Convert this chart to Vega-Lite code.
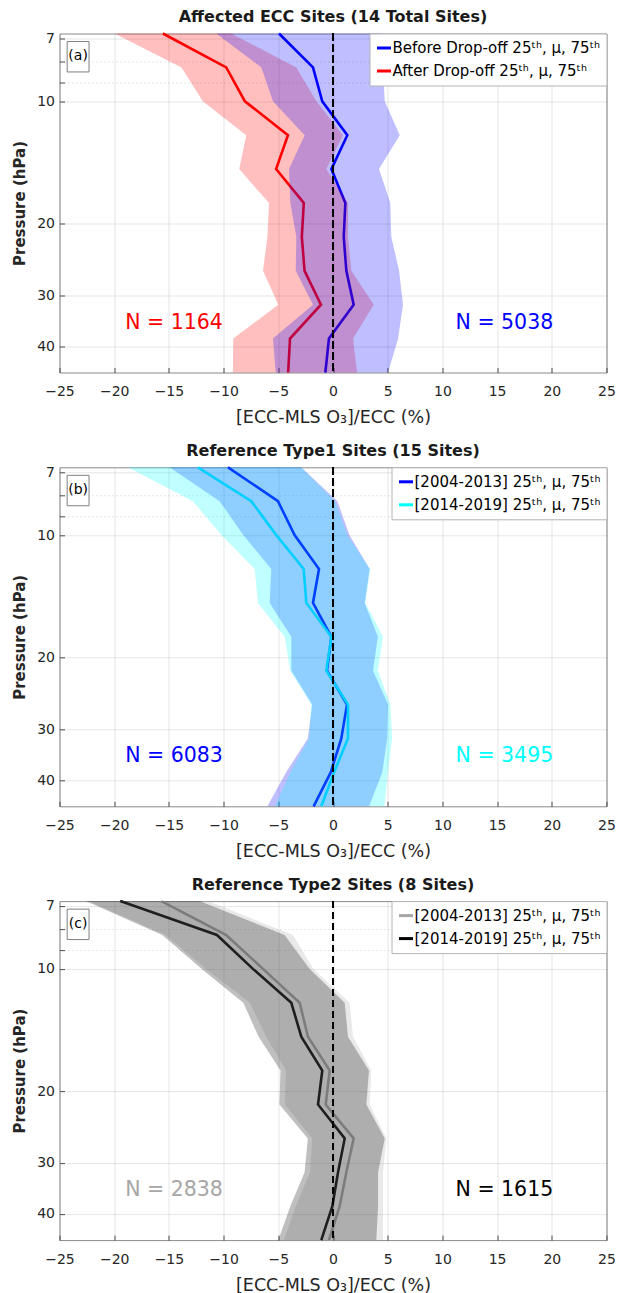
{
  "$schema": "https://vega.github.io/schema/vega-lite/v6.json",
  "autosize": {"type": "pad"},
  "padding": {"left": 11.5, "top": 8.5, "right": 0, "bottom": 0},
  "background": "white",
  "spacing": 14.8,
  "config": {
    "font": "DejaVu Sans",
    "view": {"stroke": "#8a8a8a", "strokeWidth": 1},
    "title": {"fontSize": 16, "fontWeight": "bold", "color": "#1a1a1a", "offset": 3.2},
    "axis": {"labelFontSize": 14, "labelColor": "#262626", "titleColor": "#262626", "gridColor": "#000000", "gridOpacity": 0.1, "domain": false, "ticks": true, "tickSize": -5, "tickColor": "#4d4d4d", "tickWidth": 1, "labelFlush": false},
    "legend": {"orient": "top-right", "offset": 0, "labelFontSize": 15, "labelColor": "#000000", "labelLimit": 400, "symbolType": "stroke", "symbolStrokeWidth": 3, "symbolSize": 196, "strokeColor": "#b3b3b3", "fillColor": "white", "padding": 6, "rowPadding": 6, "labelOffset": 0}
  },
  "resolve": {"scale": {"color": "independent", "x": "independent", "y": "independent"}, "legend": {"color": "independent"}},
  "datasets": {
    "a": [
      {"series": "Before Drop-off 25ᵗʰ, μ, 75ᵗʰ", "p": 6.813, "mean": -4.94, "p25": -10.67, "p75": 4.42},
      {"series": "Before Drop-off 25ᵗʰ, μ, 75ᵗʰ", "p": 8.254, "mean": -1.83, "p25": -6.55, "p75": 4.57},
      {"series": "Before Drop-off 25ᵗʰ, μ, 75ᵗʰ", "p": 10, "mean": -0.98, "p25": -5.49, "p75": 4.73},
      {"series": "Before Drop-off 25ᵗʰ, μ, 75ᵗʰ", "p": 12.115, "mean": 1.31, "p25": -2.59, "p75": 6.1},
      {"series": "Before Drop-off 25ᵗʰ, μ, 75ᵗʰ", "p": 14.678, "mean": -0.15, "p25": -4.02, "p75": 4.21},
      {"series": "Before Drop-off 25ᵗʰ, μ, 75ᵗʰ", "p": 17.783, "mean": 1.13, "p25": -3.9, "p75": 5.24},
      {"series": "Before Drop-off 25ᵗʰ, μ, 75ᵗʰ", "p": 21.544, "mean": 0.98, "p25": -3.35, "p75": 5.33},
      {"series": "Before Drop-off 25ᵗʰ, μ, 75ᵗʰ", "p": 26.102, "mean": 1.22, "p25": -3.41, "p75": 6.04},
      {"series": "Before Drop-off 25ᵗʰ, μ, 75ᵗʰ", "p": 31.623, "mean": 1.89, "p25": -1.83, "p75": 6.4},
      {"series": "Before Drop-off 25ᵗʰ, μ, 75ᵗʰ", "p": 38.312, "mean": -0.37, "p25": -5.49, "p75": 5.95},
      {"series": "Before Drop-off 25ᵗʰ, μ, 75ᵗʰ", "p": 46.416, "mean": -0.7, "p25": -5.24, "p75": 5.03},
      {"series": "After Drop-off 25ᵗʰ, μ, 75ᵗʰ", "p": 6.813, "mean": -15.55, "p25": -19.97, "p75": -9.3},
      {"series": "After Drop-off 25ᵗʰ, μ, 75ᵗʰ", "p": 8.254, "mean": -9.76, "p25": -13.85, "p75": -3.35},
      {"series": "After Drop-off 25ᵗʰ, μ, 75ᵗʰ", "p": 10, "mean": -8.05, "p25": -11.9, "p75": -1.52},
      {"series": "After Drop-off 25ᵗʰ, μ, 75ᵗʰ", "p": 12.115, "mean": -4.12, "p25": -7.93, "p75": 0.91},
      {"series": "After Drop-off 25ᵗʰ, μ, 75ᵗʰ", "p": 14.678, "mean": -5.2, "p25": -8.57, "p75": -0.61},
      {"series": "After Drop-off 25ᵗʰ, μ, 75ᵗʰ", "p": 17.783, "mean": -2.67, "p25": -5.85, "p75": 1.37},
      {"series": "After Drop-off 25ᵗʰ, μ, 75ᵗʰ", "p": 21.544, "mean": -2.85, "p25": -6.0, "p75": 1.37},
      {"series": "After Drop-off 25ᵗʰ, μ, 75ᵗʰ", "p": 26.102, "mean": -2.6, "p25": -6.4, "p75": 1.68},
      {"series": "After Drop-off 25ᵗʰ, μ, 75ᵗʰ", "p": 31.623, "mean": -1.1, "p25": -5.0, "p75": 3.72},
      {"series": "After Drop-off 25ᵗʰ, μ, 75ᵗʰ", "p": 38.312, "mean": -3.93, "p25": -9.12, "p75": 1.83},
      {"series": "After Drop-off 25ᵗʰ, μ, 75ᵗʰ", "p": 46.416, "mean": -4.1, "p25": -9.15, "p75": 2.2}
    ],
    "b": [
      {"series": "[2004-2013] 25ᵗʰ, μ, 75ᵗʰ", "p": 6.813, "mean": -9.6, "p25": -14.94, "p75": -2.9},
      {"series": "[2004-2013] 25ᵗʰ, μ, 75ᵗʰ", "p": 8.254, "mean": -5.03, "p25": -10.37, "p75": 0.4},
      {"series": "[2004-2013] 25ᵗʰ, μ, 75ᵗʰ", "p": 10, "mean": -3.51, "p25": -8.2, "p75": 1.5},
      {"series": "[2004-2013] 25ᵗʰ, μ, 75ᵗʰ", "p": 12.115, "mean": -1.28, "p25": -5.64, "p75": 3.35},
      {"series": "[2004-2013] 25ᵗʰ, μ, 75ᵗʰ", "p": 14.678, "mean": -1.83, "p25": -5.79, "p75": 2.9},
      {"series": "[2004-2013] 25ᵗʰ, μ, 75ᵗʰ", "p": 17.783, "mean": -0.15, "p25": -3.81, "p75": 4.1},
      {"series": "[2004-2013] 25ᵗʰ, μ, 75ᵗʰ", "p": 21.544, "mean": -0.55, "p25": -3.81, "p75": 3.66},
      {"series": "[2004-2013] 25ᵗʰ, μ, 75ᵗʰ", "p": 26.102, "mean": 1.28, "p25": -1.9, "p75": 5.03},
      {"series": "[2004-2013] 25ᵗʰ, μ, 75ᵗʰ", "p": 31.623, "mean": 0.76, "p25": -2.3, "p75": 4.95},
      {"series": "[2004-2013] 25ᵗʰ, μ, 75ᵗʰ", "p": 38.312, "mean": -0.21, "p25": -4.3, "p75": 4.5},
      {"series": "[2004-2013] 25ᵗʰ, μ, 75ᵗʰ", "p": 46.416, "mean": -1.77, "p25": -6.0, "p75": 3.3},
      {"series": "[2014-2019] 25ᵗʰ, μ, 75ᵗʰ", "p": 6.813, "mean": -12.35, "p25": -18.75, "p75": -2.9},
      {"series": "[2014-2019] 25ᵗʰ, μ, 75ᵗʰ", "p": 8.254, "mean": -7.47, "p25": -12.8, "p75": 0.2},
      {"series": "[2014-2019] 25ᵗʰ, μ, 75ᵗʰ", "p": 10, "mean": -5.18, "p25": -10.2, "p75": 1.3},
      {"series": "[2014-2019] 25ᵗʰ, μ, 75ᵗʰ", "p": 12.115, "mean": -2.68, "p25": -7.16, "p75": 3.4},
      {"series": "[2014-2019] 25ᵗʰ, μ, 75ᵗʰ", "p": 14.678, "mean": -2.44, "p25": -6.86, "p75": 2.95},
      {"series": "[2014-2019] 25ᵗʰ, μ, 75ᵗʰ", "p": 17.783, "mean": -0.15, "p25": -4.42, "p75": 4.57},
      {"series": "[2014-2019] 25ᵗʰ, μ, 75ᵗʰ", "p": 21.544, "mean": -0.61, "p25": -3.9, "p75": 4.1},
      {"series": "[2014-2019] 25ᵗʰ, μ, 75ᵗʰ", "p": 26.102, "mean": 1.37, "p25": -1.98, "p75": 5.24},
      {"series": "[2014-2019] 25ᵗʰ, μ, 75ᵗʰ", "p": 31.623, "mean": 1.37, "p25": -2.2, "p75": 5.4},
      {"series": "[2014-2019] 25ᵗʰ, μ, 75ᵗʰ", "p": 38.312, "mean": 0.09, "p25": -3.9, "p75": 5.03},
      {"series": "[2014-2019] 25ᵗʰ, μ, 75ᵗʰ", "p": 46.416, "mean": -1.07, "p25": -5.3, "p75": 4.7}
    ],
    "c": [
      {"series": "[2004-2013] 25ᵗʰ, μ, 75ᵗʰ", "p": 6.813, "mean": -15.7, "p25": -22.4, "p75": -11.4},
      {"series": "[2004-2013] 25ᵗʰ, μ, 75ᵗʰ", "p": 8.254, "mean": -9.76, "p25": -15.3, "p75": -3.66},
      {"series": "[2004-2013] 25ᵗʰ, μ, 75ᵗʰ", "p": 10, "mean": -6.4, "p25": -11.6, "p75": -1.8},
      {"series": "[2004-2013] 25ᵗʰ, μ, 75ᵗʰ", "p": 12.115, "mean": -3.05, "p25": -7.6, "p75": 1.52},
      {"series": "[2004-2013] 25ᵗʰ, μ, 75ᵗʰ", "p": 14.678, "mean": -2.29, "p25": -6.1, "p75": 1.83},
      {"series": "[2004-2013] 25ᵗʰ, μ, 75ᵗʰ", "p": 17.783, "mean": -0.3, "p25": -4.3, "p75": 3.5},
      {"series": "[2004-2013] 25ᵗʰ, μ, 75ᵗʰ", "p": 21.544, "mean": -0.67, "p25": -4.4, "p75": 3.35},
      {"series": "[2004-2013] 25ᵗʰ, μ, 75ᵗʰ", "p": 26.102, "mean": 1.89, "p25": -1.9, "p75": 4.88},
      {"series": "[2004-2013] 25ᵗʰ, μ, 75ᵗʰ", "p": 31.623, "mean": 1.22, "p25": -2.1, "p75": 4.57},
      {"series": "[2004-2013] 25ᵗʰ, μ, 75ᵗʰ", "p": 38.312, "mean": 0.61, "p25": -3.4, "p75": 4.57},
      {"series": "[2004-2013] 25ᵗʰ, μ, 75ᵗʰ", "p": 46.416, "mean": -0.37, "p25": -4.5, "p75": 4.57},
      {"series": "[2014-2019] 25ᵗʰ, μ, 75ᵗʰ", "p": 6.813, "mean": -19.45, "p25": -22.6, "p75": -12.2},
      {"series": "[2014-2019] 25ᵗʰ, μ, 75ᵗʰ", "p": 8.254, "mean": -10.61, "p25": -15.6, "p75": -4.42},
      {"series": "[2014-2019] 25ᵗʰ, μ, 75ᵗʰ", "p": 10, "mean": -7.32, "p25": -12.0, "p75": -2.13},
      {"series": "[2014-2019] 25ᵗʰ, μ, 75ᵗʰ", "p": 12.115, "mean": -3.81, "p25": -8.2, "p75": 1.07},
      {"series": "[2014-2019] 25ᵗʰ, μ, 75ᵗʰ", "p": 14.678, "mean": -2.9, "p25": -6.8, "p75": 1.37},
      {"series": "[2014-2019] 25ᵗʰ, μ, 75ᵗʰ", "p": 17.783, "mean": -0.98, "p25": -4.8, "p75": 3.29},
      {"series": "[2014-2019] 25ᵗʰ, μ, 75ᵗʰ", "p": 21.544, "mean": -1.37, "p25": -4.9, "p75": 3.05},
      {"series": "[2014-2019] 25ᵗʰ, μ, 75ᵗʰ", "p": 26.102, "mean": 1.07, "p25": -2.3, "p75": 4.73},
      {"series": "[2014-2019] 25ᵗʰ, μ, 75ᵗʰ", "p": 31.623, "mean": 0.46, "p25": -2.6, "p75": 4.12},
      {"series": "[2014-2019] 25ᵗʰ, μ, 75ᵗʰ", "p": 38.312, "mean": -0.06, "p25": -3.9, "p75": 4.12},
      {"series": "[2014-2019] 25ᵗʰ, μ, 75ᵗʰ", "p": 46.416, "mean": -1.07, "p25": -5.0, "p75": 3.96}
    ]
  },
  "vconcat": [
    {
      "title": "Affected ECC Sites (14 Total Sites)",
      "width": 547, "height": 339,
      "data": {"name": "a"},
      "layer": [
        {"mark": {"type": "line", "strokeWidth": 2.6},
         "encoding": {
           "x": {"field": "mean", "type": "quantitative", "title": "[ECC-MLS O₃]/ECC (%)", "scale": {"domain": [-25, 25], "nice": false}, "axis": {"values": [-25, -20, -15, -10, -5, 0, 5, 10, 15, 20, 25], "labelPadding": 17.4, "titlePadding": 9.8, "titleFontSize": 17.5, "titleFontWeight": "normal"}},
           "y": {"field": "p", "type": "quantitative", "title": "Pressure (hPa)", "scale": {"type": "log", "domain": [6.813, 46.416], "reverse": true, "nice": false}, "axis": {"values": [7, 8, 9, 10, 20, 30, 40], "format": "d", "labelExpr": "datum.value == 8 || datum.value == 9 ? '' : datum.label", "gridDash": {"condition": {"test": "datum.value == 8 || datum.value == 9", "value": [2, 2]}, "value": []}, "labelPadding": 10, "titlePadding": 9, "titleFontSize": 15, "titleFontWeight": "bold"}},
           "color": {"field": "series", "type": "nominal", "scale": {"domain": ["Before Drop-off 25ᵗʰ, μ, 75ᵗʰ", "After Drop-off 25ᵗʰ, μ, 75ᵗʰ"], "range": ["#0000ff", "#ff0000"]}, "legend": {"title": null}},
           "order": {"field": "p", "type": "quantitative"}
         }},
        {"transform": [{"filter": {"field": "series", "equal": "After Drop-off 25ᵗʰ, μ, 75ᵗʰ"}}],
         "mark": {"type": "area", "orient": "horizontal", "fill": "#ff0000", "fillOpacity": 0.25},
         "encoding": {"x": {"field": "p25", "type": "quantitative", "title": "[ECC-MLS O₃]/ECC (%)"}, "x2": {"field": "p75"}, "y": {"field": "p", "type": "quantitative", "title": "Pressure (hPa)"}}},
        {"transform": [{"filter": {"field": "series", "equal": "Before Drop-off 25ᵗʰ, μ, 75ᵗʰ"}}],
         "mark": {"type": "area", "orient": "horizontal", "fill": "#0000ff", "fillOpacity": 0.25},
         "encoding": {"x": {"field": "p25", "type": "quantitative", "title": "[ECC-MLS O₃]/ECC (%)"}, "x2": {"field": "p75"}, "y": {"field": "p", "type": "quantitative", "title": "Pressure (hPa)"}}},
        {"mark": {"type": "rule", "color": "#000000", "strokeDash": [7, 4], "strokeWidth": 1.8},
         "encoding": {"x": {"datum": 0}}},
        {"data": {"values": [{"label": "N = 1164"}]},
         "mark": {"type": "text", "align": "left", "baseline": "middle", "fontSize": 20.5, "color": "#ff0000"},
         "encoding": {"x": {"datum": -19}, "y": {"datum": 35.0}, "text": {"field": "label"}}},
        {"data": {"values": [{"label": "N = 5038"}]},
         "mark": {"type": "text", "align": "left", "baseline": "middle", "fontSize": 20.5, "color": "#0000ff"},
         "encoding": {"x": {"datum": 11.2}, "y": {"datum": 35.0}, "text": {"field": "label"}}},
        {"data": {"values": [{"label": "(a)"}]},
         "mark": {"type": "rect", "fill": "white", "stroke": "#7f7f7f", "strokeWidth": 1},
         "encoding": {"x": {"datum": -24.3}, "x2": {"datum": -22.3}, "y": {"datum": 7.13}, "y2": {"datum": 8.47}}},
        {"data": {"values": [{"label": "(a)"}]},
         "mark": {"type": "text", "align": "center", "baseline": "middle", "fontSize": 14, "color": "#000000"},
         "encoding": {"x": {"datum": -23.3}, "y": {"datum": 7.76}, "text": {"field": "label"}}}
      ]
    },
    {
      "title": "Reference Type1 Sites (15 Sites)",
      "width": 547, "height": 339,
      "data": {"name": "b"},
      "layer": [
        {"mark": {"type": "line", "strokeWidth": 2.6},
         "encoding": {
           "x": {"field": "mean", "type": "quantitative", "title": "[ECC-MLS O₃]/ECC (%)", "scale": {"domain": [-25, 25], "nice": false}, "axis": {"values": [-25, -20, -15, -10, -5, 0, 5, 10, 15, 20, 25], "labelPadding": 17.4, "titlePadding": 9.8, "titleFontSize": 17.5, "titleFontWeight": "normal"}},
           "y": {"field": "p", "type": "quantitative", "title": "Pressure (hPa)", "scale": {"type": "log", "domain": [6.813, 46.416], "reverse": true, "nice": false}, "axis": {"values": [7, 8, 9, 10, 20, 30, 40], "format": "d", "labelExpr": "datum.value == 8 || datum.value == 9 ? '' : datum.label", "gridDash": {"condition": {"test": "datum.value == 8 || datum.value == 9", "value": [2, 2]}, "value": []}, "labelPadding": 10, "titlePadding": 9, "titleFontSize": 15, "titleFontWeight": "bold"}},
           "color": {"field": "series", "type": "nominal", "scale": {"domain": ["[2004-2013] 25ᵗʰ, μ, 75ᵗʰ", "[2014-2019] 25ᵗʰ, μ, 75ᵗʰ"], "range": ["#0000ff", "#00ffff"]}, "legend": {"title": null}},
           "order": {"field": "p", "type": "quantitative"}
         }},
        {"transform": [{"filter": {"field": "series", "equal": "[2004-2013] 25ᵗʰ, μ, 75ᵗʰ"}}],
         "mark": {"type": "area", "orient": "horizontal", "fill": "#0000ff", "fillOpacity": 0.25},
         "encoding": {"x": {"field": "p25", "type": "quantitative", "title": "[ECC-MLS O₃]/ECC (%)"}, "x2": {"field": "p75"}, "y": {"field": "p", "type": "quantitative", "title": "Pressure (hPa)"}}},
        {"transform": [{"filter": {"field": "series", "equal": "[2014-2019] 25ᵗʰ, μ, 75ᵗʰ"}}],
         "mark": {"type": "area", "orient": "horizontal", "fill": "#00ffff", "fillOpacity": 0.25},
         "encoding": {"x": {"field": "p25", "type": "quantitative", "title": "[ECC-MLS O₃]/ECC (%)"}, "x2": {"field": "p75"}, "y": {"field": "p", "type": "quantitative", "title": "Pressure (hPa)"}}},
        {"mark": {"type": "rule", "color": "#000000", "strokeDash": [7, 4], "strokeWidth": 1.8},
         "encoding": {"x": {"datum": 0}}},
        {"data": {"values": [{"label": "N = 6083"}]},
         "mark": {"type": "text", "align": "left", "baseline": "middle", "fontSize": 20.5, "color": "#0000ff"},
         "encoding": {"x": {"datum": -19}, "y": {"datum": 35.0}, "text": {"field": "label"}}},
        {"data": {"values": [{"label": "N = 3495"}]},
         "mark": {"type": "text", "align": "left", "baseline": "middle", "fontSize": 20.5, "color": "#00ffff"},
         "encoding": {"x": {"datum": 11.2}, "y": {"datum": 35.0}, "text": {"field": "label"}}},
        {"data": {"values": [{"label": "(b)"}]},
         "mark": {"type": "rect", "fill": "white", "stroke": "#7f7f7f", "strokeWidth": 1},
         "encoding": {"x": {"datum": -24.3}, "x2": {"datum": -22.3}, "y": {"datum": 7.13}, "y2": {"datum": 8.47}}},
        {"data": {"values": [{"label": "(b)"}]},
         "mark": {"type": "text", "align": "center", "baseline": "middle", "fontSize": 14, "color": "#000000"},
         "encoding": {"x": {"datum": -23.3}, "y": {"datum": 7.76}, "text": {"field": "label"}}}
      ]
    },
    {
      "title": "Reference Type2 Sites (8 Sites)",
      "width": 547, "height": 339,
      "data": {"name": "c"},
      "layer": [
        {"mark": {"type": "line", "strokeWidth": 2.6},
         "encoding": {
           "x": {"field": "mean", "type": "quantitative", "title": "[ECC-MLS O₃]/ECC (%)", "scale": {"domain": [-25, 25], "nice": false}, "axis": {"values": [-25, -20, -15, -10, -5, 0, 5, 10, 15, 20, 25], "labelPadding": 17.4, "titlePadding": 9.8, "titleFontSize": 17.5, "titleFontWeight": "normal"}},
           "y": {"field": "p", "type": "quantitative", "title": "Pressure (hPa)", "scale": {"type": "log", "domain": [6.813, 46.416], "reverse": true, "nice": false}, "axis": {"values": [7, 8, 9, 10, 20, 30, 40], "format": "d", "labelExpr": "datum.value == 8 || datum.value == 9 ? '' : datum.label", "gridDash": {"condition": {"test": "datum.value == 8 || datum.value == 9", "value": [2, 2]}, "value": []}, "labelPadding": 10, "titlePadding": 9, "titleFontSize": 15, "titleFontWeight": "bold"}},
           "color": {"field": "series", "type": "nominal", "scale": {"domain": ["[2004-2013] 25ᵗʰ, μ, 75ᵗʰ", "[2014-2019] 25ᵗʰ, μ, 75ᵗʰ"], "range": ["#a6a6a6", "#000000"]}, "legend": {"title": null}},
           "order": {"field": "p", "type": "quantitative"}
         }},
        {"transform": [{"filter": {"field": "series", "equal": "[2004-2013] 25ᵗʰ, μ, 75ᵗʰ"}}],
         "mark": {"type": "area", "orient": "horizontal", "fill": "#a6a6a6", "fillOpacity": 0.25},
         "encoding": {"x": {"field": "p25", "type": "quantitative", "title": "[ECC-MLS O₃]/ECC (%)"}, "x2": {"field": "p75"}, "y": {"field": "p", "type": "quantitative", "title": "Pressure (hPa)"}}},
        {"transform": [{"filter": {"field": "series", "equal": "[2014-2019] 25ᵗʰ, μ, 75ᵗʰ"}}],
         "mark": {"type": "area", "orient": "horizontal", "fill": "#000000", "fillOpacity": 0.25},
         "encoding": {"x": {"field": "p25", "type": "quantitative", "title": "[ECC-MLS O₃]/ECC (%)"}, "x2": {"field": "p75"}, "y": {"field": "p", "type": "quantitative", "title": "Pressure (hPa)"}}},
        {"mark": {"type": "rule", "color": "#000000", "strokeDash": [7, 4], "strokeWidth": 1.8},
         "encoding": {"x": {"datum": 0}}},
        {"data": {"values": [{"label": "N = 2838"}]},
         "mark": {"type": "text", "align": "left", "baseline": "middle", "fontSize": 20.5, "color": "#a6a6a6"},
         "encoding": {"x": {"datum": -19}, "y": {"datum": 35.0}, "text": {"field": "label"}}},
        {"data": {"values": [{"label": "N = 1615"}]},
         "mark": {"type": "text", "align": "left", "baseline": "middle", "fontSize": 20.5, "color": "#000000"},
         "encoding": {"x": {"datum": 11.2}, "y": {"datum": 35.0}, "text": {"field": "label"}}},
        {"data": {"values": [{"label": "(c)"}]},
         "mark": {"type": "rect", "fill": "white", "stroke": "#7f7f7f", "strokeWidth": 1},
         "encoding": {"x": {"datum": -24.3}, "x2": {"datum": -22.3}, "y": {"datum": 7.13}, "y2": {"datum": 8.47}}},
        {"data": {"values": [{"label": "(c)"}]},
         "mark": {"type": "text", "align": "center", "baseline": "middle", "fontSize": 14, "color": "#000000"},
         "encoding": {"x": {"datum": -23.3}, "y": {"datum": 7.76}, "text": {"field": "label"}}}
      ]
    }
  ]
}
